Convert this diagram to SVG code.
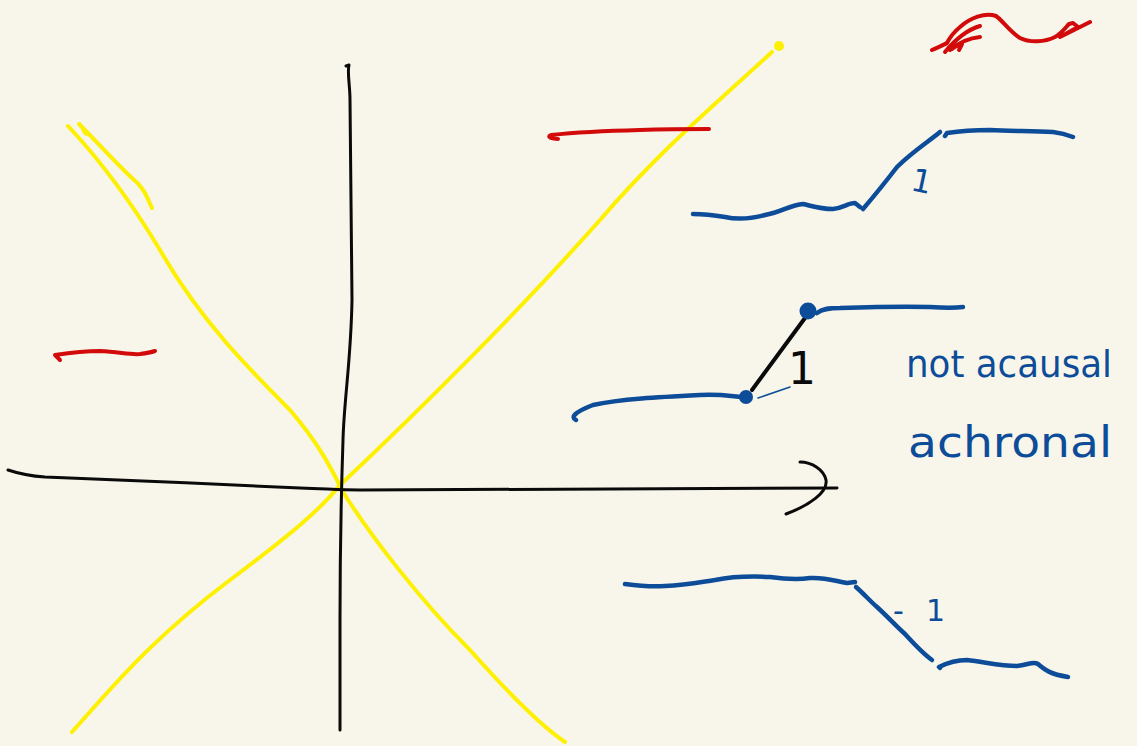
<svg xmlns="http://www.w3.org/2000/svg" width="1137" height="746" viewBox="0 0 1137 746">
<style>
.s{fill:none;stroke-linecap:round;stroke-linejoin:round}
.k{stroke:#0a0a0a;stroke-width:3}
.y{stroke:#fdf000;stroke-width:4}
.r{stroke:#d20a0a;stroke-width:4}
.b{stroke:#0c4c98;stroke-width:4.5}
.bt{fill:#0c4c98;font-family:"DejaVu Sans","Liberation Sans",sans-serif}
.kt{fill:#0a0a0a;font-family:"DejaVu Sans","Liberation Sans",sans-serif}
</style>
<rect width="1137" height="746" fill="#f8f6eb"/>
<g id="yellow-lines">
<path class="s y" d="M72,732 C110,690 150,640 230,580 C290,535 320,510 340,485 C420,410 520,310 600,220 C660,150 720,100 772,52"/>
<circle cx="779" cy="46" r="5" fill="#fdf000"/>
<path class="s y" d="M68,126 C100,160 130,200 160,250 C200,320 250,370 290,410 C320,445 332,470 343,492 C370,535 420,600 470,650 C510,695 540,725 565,742"/>
<path class="s y" d="M79,124 C100,145 118,165 132,178 C145,188 148,200 152,208"/>
<path class="s y" style="stroke-width:2" d="M80,123 C82,130 84,134 86,135"/>
</g>
<g id="axes">
<path class="s k" d="M8,470 C20,474 30,476 45,477 C120,480 220,484 300,488 C330,489 340,490 360,490 L837,488"/>
<path class="s k" d="M346,66 L349,65 C347,72 350,85 350,100 C351,180 352,260 352,300 C351,360 344,400 343,440 C341,500 340,560 340,620 L340,730"/>
<path class="s k" d="M800,462 C812,462 824,470 826,480 C828,492 810,505 786,514"/>
</g>
<g id="red-marks">
<path class="s r" d="M55,355 L60,360 M55,355 C75,352 90,351 100,351 C120,352 130,355 140,354 C148,353 152,352 155,351"/>
<path class="s r" d="M558,139 C552,139 546,137 551,135 C570,133 600,131 640,130 C670,129 690,129 709,129"/>
<path class="s r" d="M932,50 C938,47 944,45 947,43 C950,37 954,32 960,27 C970,18 985,12 996,16 C1003,21 1010,32 1020,38 C1030,43 1045,42 1055,37 C1062,33 1066,27 1069,24 L1073,23 L1078,27 L1060,37 L1090,22"/>
<path class="s r" d="M945,52 C955,40 966,30 980,26 M952,49 C960,42 970,38 980,37 M950,50 C955,46 958,45 962,44 L959,50"/>
</g>
<g id="step-up">
<path class="s b" d="M693,214 C705,214 713,215 725,217 C738,220 750,219 765,215 C782,212 790,205 803,204 C812,206 820,209 833,209 C843,208 848,203 855,203 L860,207"/>
<path class="s b" d="M863,209 C875,195 887,180 897,167 C912,152 928,142 940,132"/>
<path class="s b" d="M945,136 L947,133 C960,131 975,130 990,130 C1010,131 1030,131 1053,132 C1062,133 1068,135 1073,137"/>
<text class="bt" x="912" y="193" font-size="32" transform="rotate(12 925 180)">1</text>
</g>
<g id="step-dots">
<path class="s b" d="M576,420 C570,417 575,412 593,405 C620,399 660,397 700,395 C720,394 730,396 742,397"/>
<path class="s" stroke="#0c4c98" stroke-width="1.5" d="M758,398 L790,387"/>
<path class="s" stroke="#0a0a0a" stroke-width="4" d="M752,390 L805,318"/>
<circle cx="746" cy="397" r="7" fill="#0c4c98"/>
<circle cx="808" cy="311" r="8.5" fill="#0c4c98"/>
<path class="s b" d="M817,313 C822,309 828,308 840,308 C870,307 900,306 930,307 C945,308 955,308 963,307"/>
<text class="kt" x="788" y="384" font-size="44">1</text>
</g>
<g id="step-down">
<path class="s b" d="M625,584 C640,586 650,587 665,586 C685,585 695,583 715,580 C735,576 750,576 770,577 C785,579 795,580 810,578 C825,577 835,581 847,583 L855,582"/>
<path class="s b" d="M856,587 C865,595 870,601 877,607 C888,617 895,625 905,634 C915,645 925,655 932,660"/>
<path class="s b" d="M940,668 L939,667 C945,664 955,660 967,660 C985,662 1000,666 1017,666 C1028,665 1033,661 1038,664 C1045,670 1050,674 1068,677"/>
<text class="bt" x="893" y="621" font-size="30" textLength="52" lengthAdjust="spacing">- 1</text>
</g>
<g id="label">
<text class="bt" x="906" y="377" font-size="38" textLength="206" lengthAdjust="spacingAndGlyphs">not acausal</text>
<text class="bt" x="908" y="457" font-size="42" textLength="204" lengthAdjust="spacingAndGlyphs">achronal</text>
</g>
</svg>
